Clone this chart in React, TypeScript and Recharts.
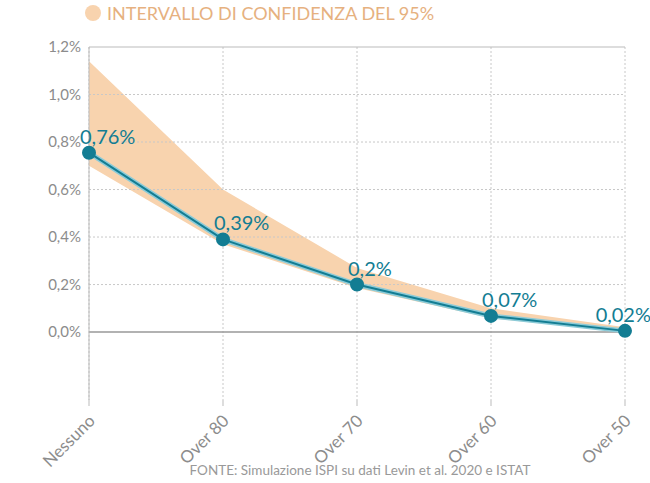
import React from "react";
import { ComposedChart, Area, Line, XAxis, YAxis, CartesianGrid, ReferenceLine, LabelList } from "recharts";

const categories = ["Nessuno", "Over 80", "Over 70", "Over 60", "Over 50"];
const values = [0.755, 0.39, 0.2, 0.068, 0.005];
const valueLabels = ["0,76%", "0,39%", "0,2%", "0,07%", "0,02%"];
const lower = [0.7, 0.37, 0.185, 0.058, 0.0];
const upper = [1.14, 0.6, 0.27, 0.1, 0.02];
const yTicks = [0, 0.2, 0.4, 0.6, 0.8, 1.0, 1.2];

const data = categories.map((c, i) => ({ name: c, v: values[i], band: [lower[i], upper[i]], lab: valueLabels[i] }));

const TEAL = "#137D93";
const GREY = "#8c8c8c";

const XTick = (p: any) => {
  const { x, y, payload } = p;
  return (
    <g transform={`translate(${x + 7},${y + 14})`}>
      <text textAnchor="end" transform="rotate(-45)" fill={GREY} fontSize={17} fontFamily="Lato, sans-serif">{payload.value}</text>
    </g>
  );
};

const ValLabel = (p: any) => {
  const { x, y, value, index } = p;
  const last = index === categories.length - 1;
  return (
    <text x={last ? x + 26 : x - 9} y={y - 9} textAnchor={last ? "end" : "start"} fill={TEAL} fontSize={20} fontFamily="Lato, sans-serif">{value}</text>
  );
};

export default function App() {
  return (
    <div style={{ position: "absolute", left: 0, top: 0, width: 650, height: 483, background: "#fff", fontFamily: "Lato, sans-serif" }}>
      <svg width={650} height={30} style={{ position: "absolute", left: 0, top: 0 }}>
        <circle cx={93} cy={13} r={8} fill="#F8D3AE" />
        <text x={107} y={20} fill="#E6B17F" fontSize={18} fontFamily="Lato, sans-serif">INTERVALLO DI CONFIDENZA DEL 95%</text>
      </svg>
      <ComposedChart width={650} height={483} data={data} margin={{ top: 47, right: 25, bottom: 13, left: 0 }}>
        <CartesianGrid stroke="#c8c8c8" strokeDasharray="2 2" horizontal={false} />
        {yTicks.slice(1, 6).map((t) => (
          <ReferenceLine key={t} y={t} stroke="#c8c8c8" strokeDasharray="2 2" />
        ))}
        <XAxis dataKey="name" tick={<XTick />} interval={0} height={70} axisLine={false} tickLine={{ stroke: "#bbb" }} />
        <YAxis domain={[-0.286, 1.2]} ticks={yTicks} width={89} axisLine={{ stroke: "#bbb" }} tickLine={false}
          tick={{ fill: GREY, fontSize: 15, fontFamily: "Lato, sans-serif" }}
          tickFormatter={(v: number) => v.toFixed(1).replace(".", ",") + "%"} />
        <ReferenceLine y={1.2} stroke="#bbb" />
        <ReferenceLine y={0} stroke="#999" strokeWidth={1.5} />
        <Area dataKey="band" stroke="none" fill="#F8D3AE" fillOpacity={1} isAnimationActive={false} type="linear" />
        <Line dataKey="v" stroke="#8ccbd8" strokeWidth={5} dot={false} isAnimationActive={false} type="linear" />
        <Line dataKey="v" stroke={TEAL} strokeWidth={2} dot={{ r: 6, fill: TEAL, stroke: TEAL }} isAnimationActive={false} type="linear">
          <LabelList dataKey="lab" content={<ValLabel />} />
        </Line>
      </ComposedChart>
      <div style={{ position: "absolute", top: 462, left: 0, width: 650, paddingLeft: 70, boxSizing: "border-box", textAlign: "center", fontSize: 13.5, color: "#999" }}>
        FONTE: Simulazione ISPI su dati Levin et al. 2020 e ISTAT
      </div>
    </div>
  );
}
